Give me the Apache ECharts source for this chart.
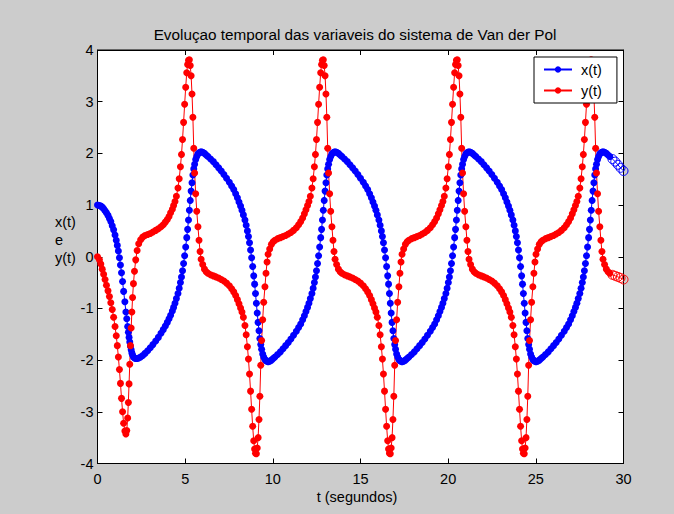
<!DOCTYPE html>
<html><head><meta charset="utf-8">
<script src="https://cdn.jsdelivr.net/npm/echarts/dist/echarts.min.js"></script>
<style>html,body{margin:0;padding:0;background:#cccccc;}#c{width:674px;height:514px;}</style>
</head><body><div id="c"></div>
<script>
const titleText = 'Evoluçao temporal das variaveis do sistema de Van der Pol';
const xLabelText = 't (segundos)';
const yLabelLines = ['x(t)', 'e', 'y(t)'];
const seriesNames = ['x(t)', 'y(t)'];

// transient start (t from 0 up to first y peak)
const t0 = [0.00,0.11,0.19,0.27,0.35,0.43,0.51,0.60,0.68,0.76,0.84,0.92,1.00,1.07,1.13,1.19,1.25,1.31,1.37,1.43,1.49,1.56,1.62,1.67,1.72,1.76,1.80,1.84,1.88,1.92,1.96,2.00,2.05,2.11,2.18,2.26,2.35,2.46,2.58,2.71,2.86,3.01,3.16,3.32,3.47,3.62,3.75,3.87,3.98,4.08,4.17,4.27,4.34,4.42,4.50,4.59,4.66,4.73,4.79,4.85,4.91,4.97,5.03,5.09,5.14,5.19];
const x0 = [1.00,0.99,0.98,0.96,0.93,0.89,0.85,0.80,0.74,0.68,0.60,0.52,0.42,0.32,0.22,0.11,-0.02,-0.16,-0.31,-0.48,-0.67,-0.87,-1.07,-1.20,-1.35,-1.46,-1.56,-1.65,-1.73,-1.80,-1.86,-1.90,-1.94,-1.96,-1.97,-1.97,-1.96,-1.94,-1.91,-1.87,-1.82,-1.76,-1.70,-1.63,-1.56,-1.48,-1.41,-1.34,-1.27,-1.20,-1.13,-1.05,-0.98,-0.90,-0.81,-0.71,-0.61,-0.50,-0.39,-0.27,-0.13,0.02,0.19,0.37,0.53,0.71];
const y0 = [0.00,-0.06,-0.14,-0.24,-0.34,-0.44,-0.55,-0.66,-0.77,-0.89,-1.02,-1.17,-1.35,-1.53,-1.72,-1.94,-2.18,-2.45,-2.74,-3.00,-3.22,-3.37,-3.43,-3.36,-3.12,-2.82,-2.46,-2.08,-1.72,-1.38,-1.07,-0.79,-0.52,-0.28,-0.06,0.12,0.25,0.33,0.38,0.41,0.43,0.45,0.48,0.51,0.54,0.58,0.62,0.67,0.72,0.78,0.85,0.92,0.99,1.07,1.17,1.33,1.51,1.74,1.98,2.27,2.60,2.95,3.28,3.56,3.72,3.80];

// half cycle A (falling, from y peak ~5.24)
const tA = [5.24,5.29,5.34,5.39,5.44,5.49,5.54,5.60,5.66,5.73,5.79,5.85,5.91,6.00,6.10,6.20,6.30,6.45,6.61,6.76,6.91,7.06,7.21,7.36,7.52,7.65,7.77,7.88,7.98,8.07,8.16,8.24,8.32,8.41,8.48,8.55,8.61,8.67,8.73,8.79,8.85,8.91,8.96,9.01];
const xA = [0.90,1.09,1.27,1.43,1.58,1.70,1.79,1.88,1.94,1.99,2.01,2.02,2.03,2.02,2.00,1.97,1.94,1.89,1.84,1.78,1.72,1.66,1.59,1.52,1.44,1.37,1.30,1.22,1.14,1.06,0.98,0.90,0.81,0.71,0.61,0.50,0.39,0.27,0.13,-0.02,-0.19,-0.37,-0.53,-0.71];
const yA = [3.81,3.70,3.50,3.15,2.70,2.10,1.62,1.22,0.88,0.58,0.32,0.10,-0.05,-0.15,-0.24,-0.29,-0.32,-0.35,-0.37,-0.39,-0.41,-0.44,-0.47,-0.51,-0.56,-0.62,-0.68,-0.75,-0.83,-0.91,-0.99,-1.07,-1.17,-1.33,-1.51,-1.74,-1.98,-2.27,-2.60,-2.95,-3.28,-3.56,-3.72,-3.80];

// half cycle B (rising, from y min ~9.06)
const tB = [9.06,9.11,9.16,9.21,9.26,9.31,9.36,9.42,9.48,9.55,9.61,9.67,9.73,9.82,9.92,10.02,10.12,10.27,10.43,10.58,10.73,10.88,11.03,11.18,11.34,11.47,11.59,11.70,11.80,11.89,11.98,12.06,12.14,12.23,12.30,12.37,12.43,12.49,12.55,12.61,12.67,12.73,12.78,12.83];
const xB = [-0.90,-1.09,-1.27,-1.43,-1.58,-1.70,-1.79,-1.88,-1.94,-1.99,-2.01,-2.02,-2.03,-2.02,-2.00,-1.97,-1.94,-1.89,-1.84,-1.78,-1.72,-1.66,-1.59,-1.52,-1.44,-1.37,-1.30,-1.22,-1.14,-1.06,-0.98,-0.90,-0.81,-0.71,-0.61,-0.50,-0.39,-0.27,-0.13,0.02,0.19,0.37,0.53,0.71];
const yB = [-3.81,-3.70,-3.50,-3.15,-2.70,-2.10,-1.62,-1.22,-0.88,-0.58,-0.32,-0.10,0.05,0.15,0.24,0.29,0.32,0.35,0.37,0.39,0.41,0.44,0.47,0.51,0.56,0.62,0.68,0.75,0.83,0.91,0.99,1.07,1.17,1.33,1.51,1.74,1.98,2.27,2.60,2.95,3.28,3.56,3.72,3.80];

// half cycle C (falling, from ~12.88)
const tC = [12.88,12.93,12.98,13.03,13.08,13.13,13.18,13.24,13.30,13.37,13.43,13.49,13.55,13.64,13.74,13.84,13.94,14.09,14.25,14.40,14.55,14.70,14.85,15.00,15.16,15.29,15.41,15.52,15.62,15.71,15.80,15.88,15.96,16.05,16.12,16.19,16.25,16.31,16.37,16.43,16.49,16.55,16.60,16.65];
const xC = [0.90,1.09,1.27,1.43,1.58,1.70,1.79,1.88,1.94,1.99,2.01,2.02,2.03,2.02,2.00,1.97,1.94,1.89,1.84,1.78,1.72,1.66,1.59,1.52,1.44,1.37,1.30,1.22,1.14,1.06,0.98,0.90,0.81,0.71,0.61,0.50,0.39,0.27,0.13,-0.02,-0.19,-0.37,-0.53,-0.71];
const yC = [3.81,3.70,3.50,3.15,2.70,2.10,1.62,1.22,0.88,0.58,0.32,0.10,-0.05,-0.15,-0.24,-0.29,-0.32,-0.35,-0.37,-0.39,-0.41,-0.44,-0.47,-0.51,-0.56,-0.62,-0.68,-0.75,-0.83,-0.91,-0.99,-1.07,-1.17,-1.33,-1.51,-1.74,-1.98,-2.27,-2.60,-2.95,-3.28,-3.56,-3.72,-3.80];

// half cycle D (rising, from ~16.70)
const tD = [16.70,16.75,16.80,16.85,16.90,16.95,17.00,17.06,17.12,17.19,17.25,17.31,17.37,17.46,17.56,17.66,17.76,17.91,18.07,18.22,18.37,18.52,18.67,18.82,18.98,19.11,19.23,19.34,19.44,19.53,19.62,19.70,19.78,19.87,19.94,20.01,20.07,20.13,20.19,20.25,20.31,20.37,20.42,20.47];
const xD = [-0.90,-1.09,-1.27,-1.43,-1.58,-1.70,-1.79,-1.88,-1.94,-1.99,-2.01,-2.02,-2.03,-2.02,-2.00,-1.97,-1.94,-1.89,-1.84,-1.78,-1.72,-1.66,-1.59,-1.52,-1.44,-1.37,-1.30,-1.22,-1.14,-1.06,-0.98,-0.90,-0.81,-0.71,-0.61,-0.50,-0.39,-0.27,-0.13,0.02,0.19,0.37,0.53,0.71];
const yD = [-3.81,-3.70,-3.50,-3.15,-2.70,-2.10,-1.62,-1.22,-0.88,-0.58,-0.32,-0.10,0.05,0.15,0.24,0.29,0.32,0.35,0.37,0.39,0.41,0.44,0.47,0.51,0.56,0.62,0.68,0.75,0.83,0.91,0.99,1.07,1.17,1.33,1.51,1.74,1.98,2.27,2.60,2.95,3.28,3.56,3.72,3.80];

// half cycle E (falling, from ~20.52)
const tE = [20.52,20.57,20.62,20.67,20.72,20.77,20.82,20.88,20.94,21.01,21.07,21.13,21.19,21.28,21.38,21.48,21.58,21.73,21.89,22.04,22.19,22.34,22.49,22.64,22.80,22.93,23.05,23.16,23.26,23.35,23.44,23.52,23.60,23.69,23.76,23.83,23.89,23.95,24.01,24.07,24.13,24.19,24.24,24.29];
const xE = [0.90,1.09,1.27,1.43,1.58,1.70,1.79,1.88,1.94,1.99,2.01,2.02,2.03,2.02,2.00,1.97,1.94,1.89,1.84,1.78,1.72,1.66,1.59,1.52,1.44,1.37,1.30,1.22,1.14,1.06,0.98,0.90,0.81,0.71,0.61,0.50,0.39,0.27,0.13,-0.02,-0.19,-0.37,-0.53,-0.71];
const yE = [3.81,3.70,3.50,3.15,2.70,2.10,1.62,1.22,0.88,0.58,0.32,0.10,-0.05,-0.15,-0.24,-0.29,-0.32,-0.35,-0.37,-0.39,-0.41,-0.44,-0.47,-0.51,-0.56,-0.62,-0.68,-0.75,-0.83,-0.91,-0.99,-1.07,-1.17,-1.33,-1.51,-1.74,-1.98,-2.27,-2.60,-2.95,-3.28,-3.56,-3.72,-3.80];

// half cycle F (rising, from ~24.34)
const tF = [24.34,24.39,24.44,24.49,24.54,24.59,24.64,24.70,24.76,24.83,24.89,24.95,25.01,25.10,25.20,25.30,25.40,25.55,25.71,25.86,26.01,26.16,26.31,26.46,26.62,26.75,26.87,26.98,27.08,27.17,27.26,27.34,27.42,27.51,27.58,27.65,27.71,27.77,27.83,27.89,27.95,28.01,28.06,28.11];
const xF = [-0.90,-1.09,-1.27,-1.43,-1.58,-1.70,-1.79,-1.88,-1.94,-1.99,-2.01,-2.02,-2.03,-2.02,-2.00,-1.97,-1.94,-1.89,-1.84,-1.78,-1.72,-1.66,-1.59,-1.52,-1.44,-1.37,-1.30,-1.22,-1.14,-1.06,-0.98,-0.90,-0.81,-0.71,-0.61,-0.50,-0.39,-0.27,-0.13,0.02,0.19,0.37,0.53,0.71];
const yF = [-3.81,-3.70,-3.50,-3.15,-2.70,-2.10,-1.62,-1.22,-0.88,-0.58,-0.32,-0.10,0.05,0.15,0.24,0.29,0.32,0.35,0.37,0.39,0.41,0.44,0.47,0.51,0.56,0.62,0.68,0.75,0.83,0.91,0.99,1.07,1.17,1.33,1.51,1.74,1.98,2.27,2.60,2.95,3.28,3.56,3.72,3.80];

// final partial half cycle G (falling, from ~28.16 to 30)
const tG = [28.16,28.21,28.26,28.31,28.36,28.41,28.46,28.52,28.58,28.65,28.71,28.77,28.83,28.92,29.02,29.12,29.22,29.37,29.53,29.68,29.83,30.00];
const xG = [0.90,1.09,1.27,1.43,1.58,1.70,1.79,1.88,1.94,1.99,2.01,2.02,2.03,2.02,2.00,1.97,1.94,1.89,1.84,1.78,1.72,1.66];
const yG = [3.81,3.70,3.50,3.15,2.70,2.10,1.62,1.22,0.88,0.58,0.32,0.10,-0.05,-0.15,-0.24,-0.29,-0.32,-0.35,-0.37,-0.39,-0.41,-0.44];

const hollowFromT = 29.3;

const T = [].concat(t0, tA, tB, tC, tD, tE, tF, tG);
const XV = [].concat(x0, xA, xB, xC, xD, xE, xF, xG);
const YV = [].concat(y0, yA, yB, yC, yD, yE, yF, yG);

const FONT = '"Liberation Sans", Arial, Helvetica, sans-serif';
const BLUE = '#0000ff', RED = '#ff0000';

function build(vals, color) {
  return T.map(function (t, i) {
    if (t >= hollowFromT) {
      return { value: [t, vals[i]], symbolSize: 9,
        itemStyle: { color: 'rgba(0,0,0,0)', borderColor: color, borderWidth: 1 } };
    }
    return [t, vals[i]];
  });
}

function axisCommon(extra) {
  return Object.assign({
    type: 'value',
    axisLine: { show: true, onZero: false, lineStyle: { color: '#000', width: 1 } },
    axisTick: { show: true, inside: true, length: 5, lineStyle: { color: '#000', width: 1 } },
    splitLine: { show: false },
    axisLabel: { show: false }
  }, extra);
}

const chart = echarts.init(document.getElementById('c'), null, { renderer: 'svg' });
chart.setOption({
  animation: false,
  backgroundColor: '#cccccc',
  grid: { left: 97.5, top: 50, width: 526, height: 413.5, show: true,
          backgroundColor: '#ffffff', borderColor: '#000', borderWidth: 1 },
  xAxis: [
    axisCommon({ min: 0, max: 30, interval: 5, position: 'bottom',
      axisLabel: { show: true, color: '#000', fontSize: 14.5, fontFamily: FONT, margin: 8 } }),
    axisCommon({ min: 0, max: 30, interval: 5, position: 'top' })
  ],
  yAxis: [
    axisCommon({ min: -4, max: 4, interval: 1, position: 'left',
      axisLabel: { show: true, color: '#000', fontSize: 14.5, fontFamily: FONT, margin: 4 } }),
    axisCommon({ min: -4, max: 4, interval: 1, position: 'right' })
  ],
  legend: {
    data: seriesNames, orient: 'vertical', left: 534, top: 57,
    backgroundColor: '#ffffff', borderColor: '#000', borderWidth: 1, borderRadius: 0,
    padding: [5, 15, 5, 9], itemWidth: 28, itemHeight: 8, itemGap: 6,
    textStyle: { color: '#000', fontSize: 14.5, fontFamily: FONT, padding: [0, 0, 0, 4] }
  },
  graphic: [
    { type: 'text', x: 355, y: 34, style: { text: titleText, fill: '#000', font: '15.3px ' + FONT, align: 'center', verticalAlign: 'middle' } },
    { type: 'text', x: 357, y: 497, style: { text: xLabelText, fill: '#000', font: '14.5px ' + FONT, align: 'center', verticalAlign: 'middle' } },
    { type: 'text', x: 55, y: 222, style: { text: yLabelLines[0], fill: '#000', font: '14.5px ' + FONT, align: 'left', verticalAlign: 'middle' } },
    { type: 'text', x: 55, y: 240, style: { text: yLabelLines[1], fill: '#000', font: '14.5px ' + FONT, align: 'left', verticalAlign: 'middle' } },
    { type: 'text', x: 55, y: 258, style: { text: yLabelLines[2], fill: '#000', font: '14.5px ' + FONT, align: 'left', verticalAlign: 'middle' } }
  ],
  series: [
    { name: seriesNames[0], type: 'line', xAxisIndex: 0, yAxisIndex: 0, data: build(XV, BLUE),
      symbol: 'circle', symbolSize: 7, showSymbol: true, showAllSymbol: true, clip: false,
      lineStyle: { color: BLUE, width: 1 }, itemStyle: { color: BLUE }, emphasis: { disabled: true } },
    { name: seriesNames[1], type: 'line', xAxisIndex: 0, yAxisIndex: 0, data: build(YV, RED),
      symbol: 'circle', symbolSize: 7, showSymbol: true, showAllSymbol: true, clip: false,
      lineStyle: { color: RED, width: 1 }, itemStyle: { color: RED }, emphasis: { disabled: true } }
  ]
});
</script></body></html>
